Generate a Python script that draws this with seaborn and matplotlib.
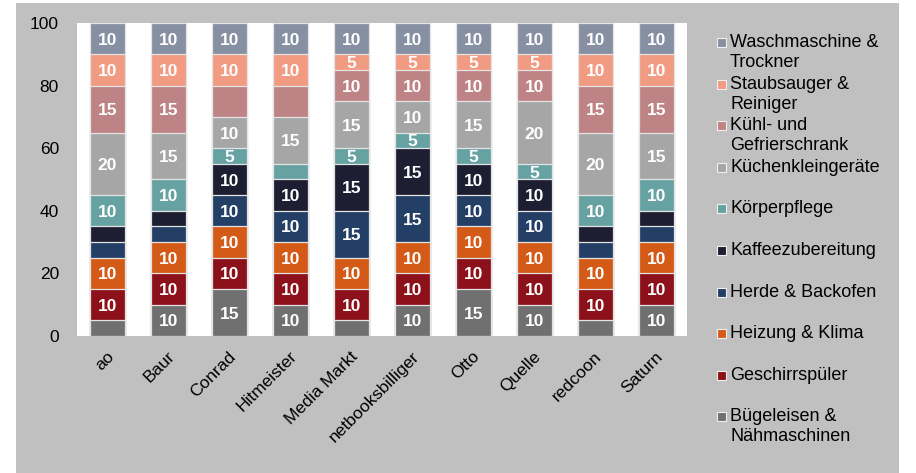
import matplotlib
matplotlib.use("Agg")
import matplotlib.pyplot as plt
import matplotlib.transforms as mtransforms
import seaborn as sns
import numpy as np
import pandas as pd
from matplotlib.patches import Rectangle

# ---------------- data ----------------
stores = ["ao", "Baur", "Conrad", "Hitmeister", "Media Markt", "netbooksbilliger",
          "Otto", "Quelle", "redcoon", "Saturn"]

# series listed from bottom of the stack to top
series_names = ["Bügeleisen & Nähmaschinen", "Geschirrspüler", "Heizung & Klima",
                "Herde & Backofen", "Kaffeezubereitung", "Körperpflege",
                "Küchenkleingeräte", "Kühl- und Gefrierschrank",
                "Staubsauger & Reiniger", "Waschmaschine & Trockner"]
legend_labels = ["Bügeleisen &\nNähmaschinen", "Geschirrspüler", "Heizung & Klima",
                 "Herde & Backofen", "Kaffeezubereitung", "Körperpflege",
                 "Küchenkleingeräte", "Kühl- und\nGefrierschrank",
                 "Staubsauger &\nReiniger", "Waschmaschine &\nTrockner"]

buegeleisen = [5, 10, 15, 10, 5, 10, 15, 10, 5, 10]
geschirr    = [10, 10, 10, 10, 10, 10, 10, 10, 10, 10]
heizung     = [10, 10, 10, 10, 10, 10, 10, 10, 10, 10]
herde       = [5, 5, 10, 10, 15, 15, 10, 10, 5, 5]
kaffee      = [5, 5, 10, 10, 15, 15, 10, 10, 5, 5]
koerper     = [10, 10, 5, 5, 5, 5, 5, 5, 10, 10]
kuechen     = [20, 15, 10, 15, 15, 10, 15, 20, 20, 15]
kuehl       = [15, 15, 10, 10, 10, 10, 10, 10, 15, 15]
staub       = [10, 10, 10, 10, 5, 5, 5, 5, 10, 10]
wasch       = [10, 10, 10, 10, 10, 10, 10, 10, 10, 10]

values = [buegeleisen, geschirr, heizung, herde, kaffee, koerper,
          kuechen, kuehl, staub, wasch]

# segments drawn without a value label in the original (store, series)
unlabeled = [("ao", "Bügeleisen & Nähmaschinen"), ("ao", "Herde & Backofen"),
             ("ao", "Kaffeezubereitung"),
             ("Baur", "Herde & Backofen"), ("Baur", "Kaffeezubereitung"),
             ("Conrad", "Kühl- und Gefrierschrank"),
             ("Hitmeister", "Körperpflege"), ("Hitmeister", "Kühl- und Gefrierschrank"),
             ("Media Markt", "Bügeleisen & Nähmaschinen"),
             ("redcoon", "Bügeleisen & Nähmaschinen"), ("redcoon", "Herde & Backofen"),
             ("redcoon", "Kaffeezubereitung"),
             ("Saturn", "Herde & Backofen"), ("Saturn", "Kaffeezubereitung")]

colors = ["#707070", "#8C111A", "#D35A17", "#243F66", "#1E1E33",
          "#67A2A3", "#A6A6A6", "#BE8384", "#F29B83", "#878FA2"]

# ---------------- figure ----------------
W, H = 916, 473
sns.set_theme(style="white")
plt.rcParams["font.family"] = ["Liberation Sans", "DejaVu Sans"]

fig = plt.figure(figsize=(W / 100, H / 100), dpi=100)
fig.patch.set_facecolor("white")

def fx(px):
    return px / W

def fy(py):
    return 1 - py / H

# gray chart-area background
fig.add_artist(Rectangle((fx(16), fy(473)), fx(899) - fx(16), fy(3) - fy(473),
                         transform=fig.transFigure, facecolor="#C0C0C0",
                         edgecolor="none", zorder=0))

ax = fig.add_axes([fx(77), fy(336), fx(687) - fx(77), fy(23) - fy(336)])
ax.set_facecolor("white")
ax.set_zorder(1)

df = pd.DataFrame({"store": np.repeat(stores, len(series_names)),
                   "series": series_names * len(stores)})
df["value"] = [values[j][i] for i in range(len(stores)) for j in range(len(series_names))]
df["series"] = pd.Categorical(df["series"], categories=series_names, ordered=True)
df["store"] = pd.Categorical(df["store"], categories=stores, ordered=True)
df = df.sort_values(["store", "series"])
df["top"] = df.groupby("store", observed=True)["value"].cumsum()
df["bottom"] = df["top"] - df["value"]

# draw cumulative bars from the top series down
for j in range(len(series_names) - 1, -1, -1):
    sub = df[df["series"] == series_names[j]]
    sns.barplot(data=sub, x="store", y="top", order=stores, color=colors[j],
                width=0.56, edgecolor="#E4E4E4", linewidth=0.9, errorbar=None,
                saturation=1, ax=ax)

unl = set(unlabeled)
for i, s in enumerate(stores):
    rows = df[df["store"] == s]
    for _, r in rows.iterrows():
        if (s, r["series"]) in unl:
            continue
        ax.text(i, r["bottom"] + r["value"] / 2, f"{int(r['value'])}",
                ha="center", va="center_baseline", color="white",
                fontsize=12.5, fontweight="bold", zorder=5)

ax.set_xlim(-0.5, len(stores) - 0.5)
ax.set_ylim(0, 100)
ax.set_yticks([0, 20, 40, 60, 80, 100])
ax.set_xlabel("")
ax.set_ylabel("")
for sp in ax.spines.values():
    sp.set_visible(False)
ax.tick_params(axis="y", length=0, pad=13, labelsize=12.5, labelcolor="black")
ax.tick_params(axis="x", length=0, pad=13, labelsize=12.5, labelcolor="black")
offset = mtransforms.ScaledTranslation(4 / 100, 0, fig.dpi_scale_trans)
for lab in ax.get_xticklabels():
    lab.set_rotation(45)
    lab.set_ha("right")
    lab.set_va("center")
    lab.set_rotation_mode("anchor")
    lab.set_transform(lab.get_transform() + offset)

# ---------------- legend (manual, evenly spaced rows) ----------------
order = list(range(len(series_names) - 1, -1, -1))
for k, j in enumerate(order):
    yc = 42.5 + k * 41.6
    fig.add_artist(Rectangle((fx(717), fy(yc + 4.5)), fx(9), 9 / H,
                             transform=fig.transFigure, facecolor=colors[j],
                             edgecolor="#F0F0F0", linewidth=0.8, zorder=3))
    for li, line in enumerate(legend_labels[j].split("\n")):
        fig.text(fx(730), fy(yc + li * 20), line, ha="left", va="center",
                 fontsize=13, color="black", zorder=3)

fig.savefig("out.png", dpi=100, facecolor=fig.get_facecolor())
